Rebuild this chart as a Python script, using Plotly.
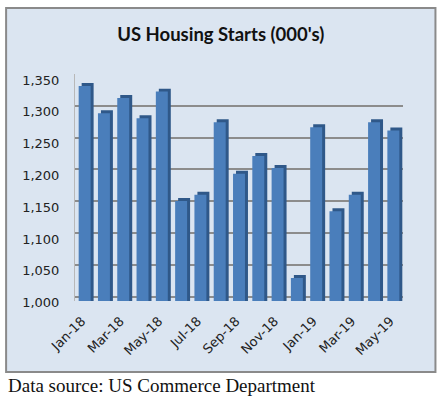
import plotly.graph_objects as go

months = ["Jan-18", "Feb-18", "Mar-18", "Apr-18", "May-18", "Jun-18", "Jul-18", "Aug-18",
          "Sep-18", "Oct-18", "Nov-18", "Dec-18", "Jan-19", "Feb-19", "Mar-19", "Apr-19", "May-19"]
starts = [1336, 1293, 1317, 1285, 1327, 1155, 1165, 1279, 1198, 1226, 1207, 1034, 1271, 1139, 1165, 1279, 1266]
y_ticks = [1000, 1050, 1100, 1150, 1200, 1250, 1300, 1350]
y_tick_text = ["1,000", "1,050", "1,100", "1,150", "1,200", "1,250", "1,300", "1,350"]
x_tick_labels = months[::2]

W, H = 445, 399
L, R, T, B = 75, 403.5, 74, 301  # plot area in pixels
DEPTH = 4.7  # 3-D depth of the bars, in value units

def px_x(p):
    return (p - L) / (R - L)

def px_y(p):
    return (B - p) / (B - T)

fig = go.Figure()
# dark side/top of each 3-D column
fig.add_trace(go.Bar(
    x=months, y=starts, width=0.62, offset=-0.155,
    marker=dict(color="#2f5889", line=dict(width=0)), hoverinfo="skip",
))
# front face of each column
fig.add_trace(go.Bar(
    x=months, y=[v - DEPTH for v in starts], width=0.62, offset=-0.31,
    marker=dict(color="#4a7ebb", line=dict(width=0)),
    customdata=starts, hovertemplate="%{x}: %{customdata:,}<extra></extra>",
))

fig.update_layout(
    width=W, height=H,
    margin=dict(l=L, r=W - R, t=T, b=H - B),
    paper_bgcolor="white",
    plot_bgcolor="rgba(0,0,0,0)",
    barmode="overlay",
    showlegend=False,
    title=dict(text="<b>US Housing Starts (000's)</b>", x=0.496, xref="container",
               y=1 - 35 / H, yref="container", xanchor="center", yanchor="middle",
               font=dict(family="Lato, Open Sans, sans-serif", size=18.5, color="#111")),
    font=dict(family="DejaVu Sans", size=13, color="#222"),
    shapes=[dict(type="rect", xref="paper", yref="paper", layer="below",
                 x0=px_x(6), x1=px_x(436), y0=px_y(372), y1=px_y(8),
                 fillcolor="#dbe5f1", line=dict(color="#8a8a8a", width=2))],
    annotations=[dict(text="Data source: US Commerce Department", xref="paper", yref="paper",
                      x=px_x(6), y=px_y(385), xanchor="left", yanchor="middle", showarrow=False,
                      font=dict(family="Liberation Serif, Times New Roman, serif", size=19, color="#111"))],
)
fig.update_xaxes(
    type="category", range=[-0.5, len(months) - 0.5],
    tickmode="array", tickvals=x_tick_labels, ticktext=x_tick_labels,
    tickangle=-45, ticks="", showgrid=False, showline=False, zeroline=False,
    ticklabelstandoff=9, ticklabelshift=-3,
    tickfont=dict(family="DejaVu Sans", size=13, color="#222"),
)
fig.update_yaxes(
    range=[993.2, 1350], tickmode="array", tickvals=y_ticks, ticktext=y_tick_text,
    showgrid=True, gridcolor="#8c8c8c", gridwidth=2, zeroline=False,
    showline=True, linecolor="#b8b8b8", linewidth=1, ticks="",
    ticklabelshift=6, ticklabelstandoff=12,
    tickfont=dict(family="DejaVu Sans", size=13, color="#222"),
)

fig.write_html("out.html", config={"displayModeBar": False},
               post_script="document.body.style.margin='0';")
